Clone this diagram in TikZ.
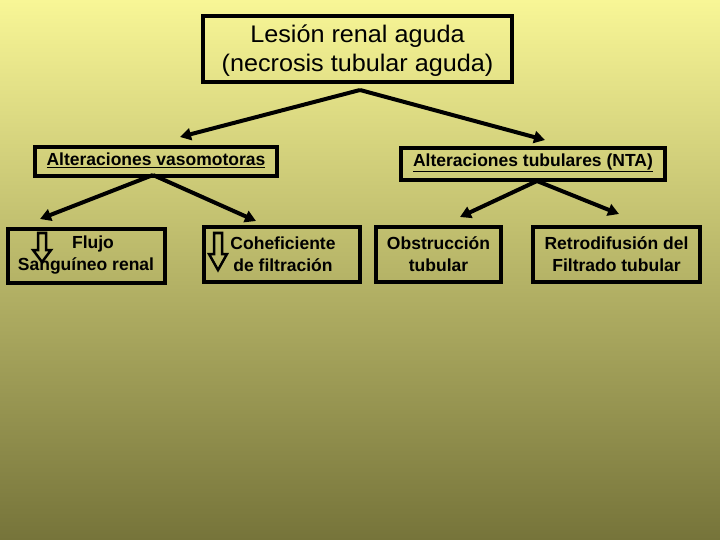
\documentclass[tikz,border=0pt]{standalone}
\usepackage{fontspec}
\setmainfont{Liberation Sans}
\usetikzlibrary{arrows.meta}
\begin{document}
\begin{tikzpicture}[x=1pt,y=-1pt,
  box/.style={draw=black,line width=3.5pt,fill=none,inner sep=0pt},
  con/.style={line width=4pt,-{Triangle[length=11pt,width=12pt]}},
  txt/.style={font=\bfseries\fontsize{17.5}{22}\selectfont,align=center},
  dn/.style={draw=black,line width=2.5pt,fill=none,line join=miter}]
\shade[top color={rgb,255:red,248;green,246;blue,150},bottom color={rgb,255:red,118;green,116;blue,58}] (0,0) rectangle (720,540);
\useasboundingbox (0,0) rectangle (720,540);
% boxes
\draw[box] (203,16) rectangle (512,82);
\node[font=\fontsize{24}{29}\selectfont,align=center,xscale=1.05] (top) at (357.5,51) {Lesión renal aguda\\(necrosis tubular aguda)};
\draw[box] (35,147) rectangle (277,176);
\node[txt] (vaso) at (156,160) {\underline{Alteraciones vasomotoras}};
\draw[box] (401,148) rectangle (665,180);
\node[txt] (tub) at (533,163) {\underline{Alteraciones tubulares (NTA)}};
\draw[box] (8,229) rectangle (165,283);
\node[txt] (flujo) at (86,255) {\hspace*{14pt}Flujo\\Sanguíneo renal};
\draw[box] (204,227) rectangle (360,282);
\node[txt] (coef) at (283,254) {Coheficiente\\de filtración};
\draw[box] (376,227) rectangle (501,282);
\node[txt] (obs) at (438.5,254) {Obstrucción\\tubular};
\draw[box] (533,227) rectangle (700,282);
\node[txt] (ret) at (616.5,254) {Retrodifusión del\\Filtrado tubular};
% hollow down arrows
\draw[dn] (38,233) -- (46,233) -- (46,250) -- (51,250) -- (42,262) -- (33,250) -- (38,250) -- cycle;
\draw[dn] (214,233) -- (222,233) -- (222,254) -- (227,254) -- (218,270) -- (209,254) -- (214,254) -- cycle;
% connectors
\coordinate (a0) at (360,90);
\coordinate (a1) at (153,175);
\coordinate (a2) at (537,181);
\coordinate (t1) at (180,137);
\coordinate (t2) at (545,140);
\coordinate (v1) at (40,219);
\coordinate (v2) at (256,221);
\coordinate (u1) at (460,217);
\coordinate (u2) at (619,214);
\draw[con] (a0) -- (t1);
\draw[con] (a0) -- (t2);
\draw[con] (a1) -- (v1);
\draw[con] (a1) -- (v2);
\draw[con] (a2) -- (u1);
\draw[con] (a2) -- (u2);
\end{tikzpicture}
\end{document}
